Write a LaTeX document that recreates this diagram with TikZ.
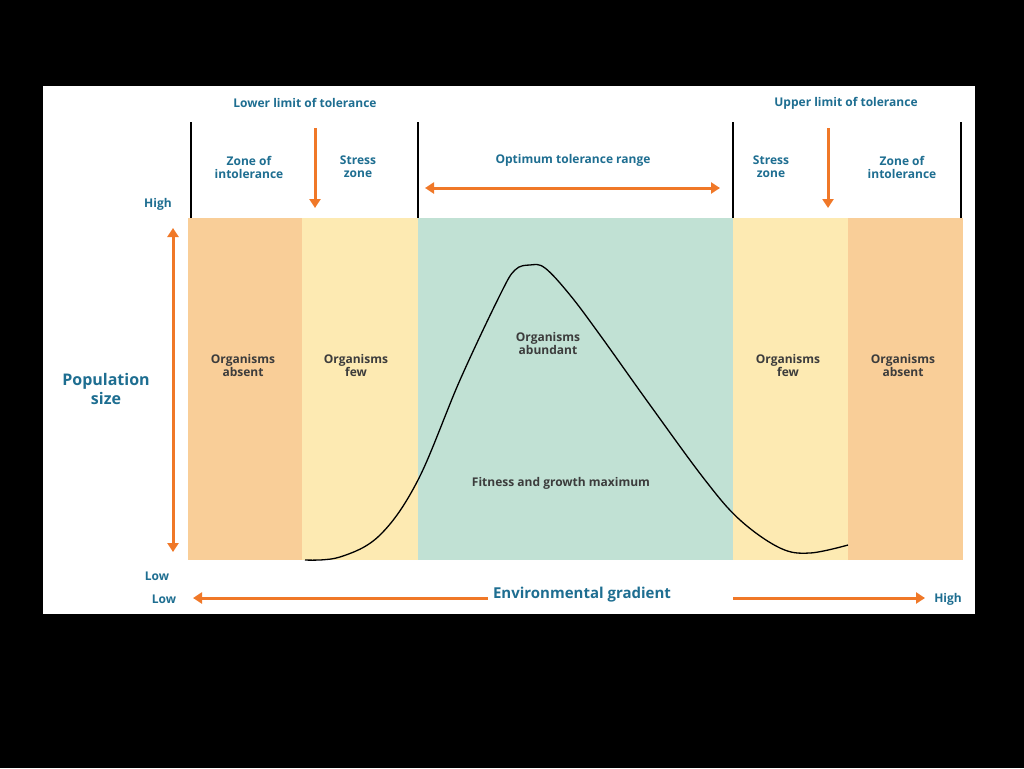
\documentclass[tikz,border=0pt]{standalone}
\usepackage{fontspec}
\setmainfont{Open Sans}
\usetikzlibrary{arrows.meta}
\definecolor{zorange}{RGB}{249,206,152}
\definecolor{zyellow}{RGB}{253,234,178}
\definecolor{zteal}{RGB}{193,225,212}
\definecolor{arr}{RGB}{240,120,40}
\definecolor{lbl}{RGB}{30,110,145}
\definecolor{txt}{RGB}{60,60,60}
\begin{document}
\begin{tikzpicture}[x=1pt,y=-1pt,
  lb/.style={text=lbl,font=\bfseries\fontsize{12}{13}\selectfont,align=center,inner sep=1pt},
  zt/.style={text=txt,font=\bfseries\fontsize{12}{13}\selectfont,align=center,inner sep=1pt},
  oarr/.style={draw=arr,line width=3pt,-{Triangle[length=9pt,width=11pt]}},
  darr/.style={draw=arr,line width=3pt,{Triangle[length=9pt,width=11pt]}-{Triangle[length=9pt,width=11pt]}},
  tick/.style={draw=black,line width=1.2pt}]
\fill[black] (0,0) rectangle (1024,768);
\useasboundingbox (0,0) rectangle (1024,768);
\fill[white] (43,86) rectangle (975,614);
\fill[zorange] (188,218) rectangle (302,560);
\fill[zyellow] (302,218) rectangle (418,560);
\fill[zteal] (418,218) rectangle (733,560);
\fill[zyellow] (733,218) rectangle (848,560);
\fill[zorange] (848,218) rectangle (963,560);
\foreach \x/\n in {191/a,418/b,733/c,961/d}{\coordinate (t\n) at (\x,122); \coordinate (b\n) at (\x,218); \draw[tick] (t\n) -- (b\n);}
\draw[black,line width=1.3pt] plot[smooth,tension=0.6] coordinates {(305,560) (340,557) (380,535) (418,480) (460,380) (500,295) (515,270) (530,265) (545,268) (570,295) (600,335) (650,405) (705,480) (740,520) (780,548) (810,553) (848,545)};
\node[lb] (llt) at (305,103) {Lower limit of tolerance};
\node[lb] (ult) at (846,103) {Upper limit of tolerance};
\node[lb] (zi1) at (249,167) {Zone of\\intolerance};
\node[lb] (sz1) at (358,167) {Stress\\zone};
\node[lb] (sz2) at (771,167) {Stress\\zone};
\node[lb] (zi2) at (902,167) {Zone of\\intolerance};
\node[lb] (opt) at (573,160) {Optimum tolerance range};
\coordinate (oa) at (425,188); \coordinate (ob) at (720,188);
\draw[darr] (oa) -- (ob);
\coordinate (d1a) at (315,128); \coordinate (d1b) at (315,208);
\coordinate (d2a) at (828,128); \coordinate (d2b) at (828,208);
\draw[oarr] (d1a) -- (d1b);
\draw[oarr] (d2a) -- (d2b);
\node[lb] (high) at (158,204) {High};
\node[lb] (low1) at (157,576) {Low};
\node[lb] (low2) at (164,599) {Low};
\node[lb] (high2) at (948,599) {High};
\coordinate (va) at (173,228); \coordinate (vb) at (173,552);
\draw[darr] (va) -- (vb);
\node[lb,font=\bfseries\fontsize{16}{19}\selectfont] (pop) at (106,389) {Population\\size};
\node[lb,font=\bfseries\fontsize{15}{17}\selectfont] (env) at (582,595) {Environmental gradient};
\draw[oarr] (env.west) ++(-4,3) coordinate (e1) (e1) -- (193,598);
\draw[oarr] (733,598) coordinate (e2) -- (925,598);
\node[zt] (z1) at (243,365) {Organisms\\absent};
\node[zt] (z2) at (356,365) {Organisms\\few};
\node[zt] (z3) at (548,343) {Organisms\\abundant};
\node[zt] (z4) at (788,365) {Organisms\\few};
\node[zt] (z5) at (903,365) {Organisms\\absent};
\node[zt] (fit) at (561,483) {Fitness and growth maximum};
\end{tikzpicture}
\end{document}
